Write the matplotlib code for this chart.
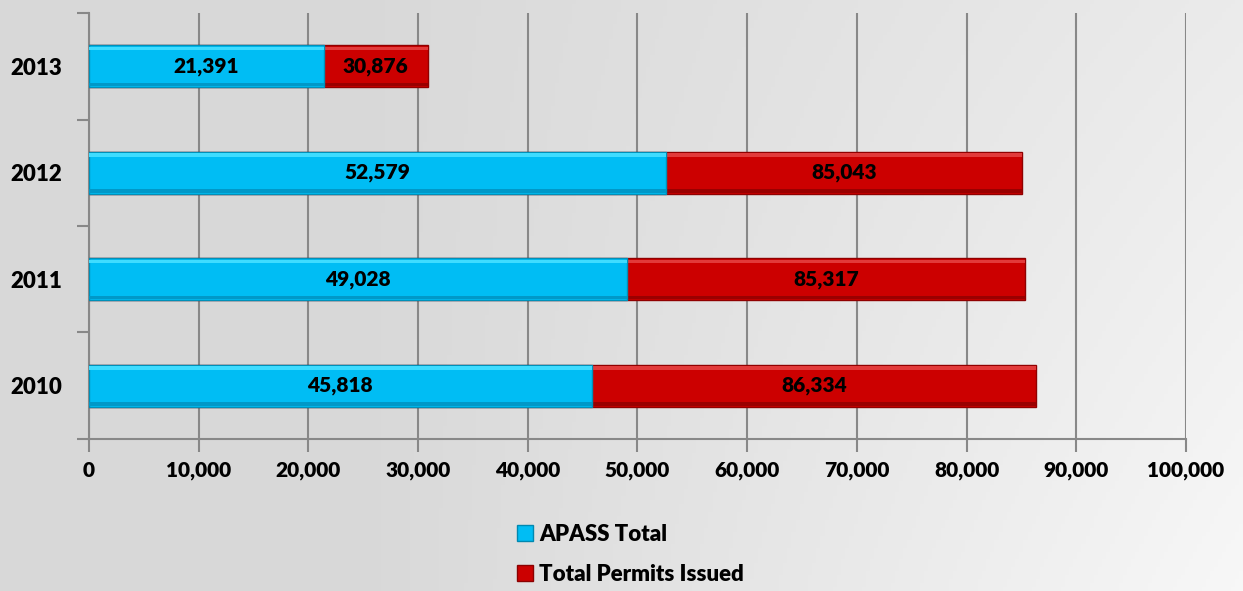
import matplotlib
matplotlib.use("Agg")
import matplotlib.pyplot as plt
import numpy as np
from matplotlib.patches import Patch

years = ["2010", "2011", "2012", "2013"]
apass_total = [45818, 49028, 52579, 21391]
permits_total = [86334, 85317, 85043, 30876]
xticks = [0, 10000, 20000, 30000, 40000, 50000, 60000, 70000, 80000, 90000, 100000]

plt.rcParams['font.family'] = ['Lato', 'DejaVu Sans']
plt.rcParams['font.weight'] = 'heavy'
FW = 'heavy'
FS = 15

fig = plt.figure(figsize=(12.43, 5.91), dpi=100)

# background gradient
bg = fig.add_axes([0, 0, 1, 1], zorder=-10)
xx, yy = np.meshgrid(np.linspace(0, 1, 300), np.linspace(0, 1, 150))
val = 0.85 + 0.12 * np.clip((xx - 0.3) / 0.7, 0, 1) * (0.6 + 0.4 * yy)
bg.imshow(np.dstack([val, val, val]), extent=[0, 1, 0, 1], aspect='auto', origin='upper')
bg.axis('off')

ax = fig.add_axes([0.0716, 0.2572, 0.8825, 0.7208])
ax.patch.set_alpha(0)
y = np.arange(len(years))
h = 0.39
blue = '#00BDF4'
red = '#CC0000'
ax.barh(y, permits_total, height=h, color=red, edgecolor='#900000', linewidth=1, zorder=3)
ax.barh(y, apass_total, height=h, color=blue, edgecolor='#0090b8', linewidth=1, zorder=4)
# bevel strips
ax.barh(y + h * 0.43, permits_total, height=h * 0.08, color='#e23a3a', linewidth=0, zorder=3.5)
ax.barh(y + h * 0.43, apass_total, height=h * 0.08, color='#3fdcff', linewidth=0, zorder=4.5)
ax.barh(y - h * 0.44, permits_total, height=h * 0.08, color='#9a0000', linewidth=0, zorder=3.5)
ax.barh(y - h * 0.44, apass_total, height=h * 0.08, color='#0098c8', linewidth=0, zorder=4.5)

for yi, a, t in zip(y, apass_total, permits_total):
    ax.text(a / 2, yi, f"{a:,}", ha='center', va='center', fontsize=FS, fontweight=FW, color='black', zorder=6)
    ax.text((a + t) / 2, yi, f"{t:,}", ha='center', va='center', fontsize=FS, fontweight=FW, color='black', zorder=6)

ax.set_xlim(0, 100000)
ax.set_ylim(-0.5, len(years) - 0.5)
ax.set_xticks(xticks)
ax.set_xticklabels([f"{v:,}" for v in xticks], fontsize=FS, fontweight=FW)
ax.set_yticks(y)
ax.set_yticklabels(years, fontsize=16, fontweight=FW)
ax.set_yticks(np.arange(-0.5, len(years), 1), minor=True)
ax.tick_params(axis='y', which='major', length=0, pad=19)
ax.tick_params(axis='y', which='minor', length=9, color='#888888', width=1.5)
ax.tick_params(axis='x', length=9, color='#888888', width=1.5, pad=7)
ax.grid(axis='x', color='#888888', linewidth=1.5, zorder=0)
ax.set_axisbelow(True)
for s in ['top', 'right']:
    ax.spines[s].set_visible(False)
for s in ['left', 'bottom']:
    ax.spines[s].set_color('#888888')
    ax.spines[s].set_linewidth(1.5)

handles = [Patch(facecolor=blue, edgecolor='#0088b0', label='APASS Total'),
           Patch(facecolor=red, edgecolor='#8a0000', label='Total Permits Issued')]
leg = fig.legend(handles=handles, loc='center left', bbox_to_anchor=(0.400, 0.062),
                 frameon=False, handlelength=0.7, handleheight=0.7,
                 handletextpad=0.3, labelspacing=0.85, prop={'weight': FW, 'size': 16})

fig.savefig('out.png', dpi=100)
